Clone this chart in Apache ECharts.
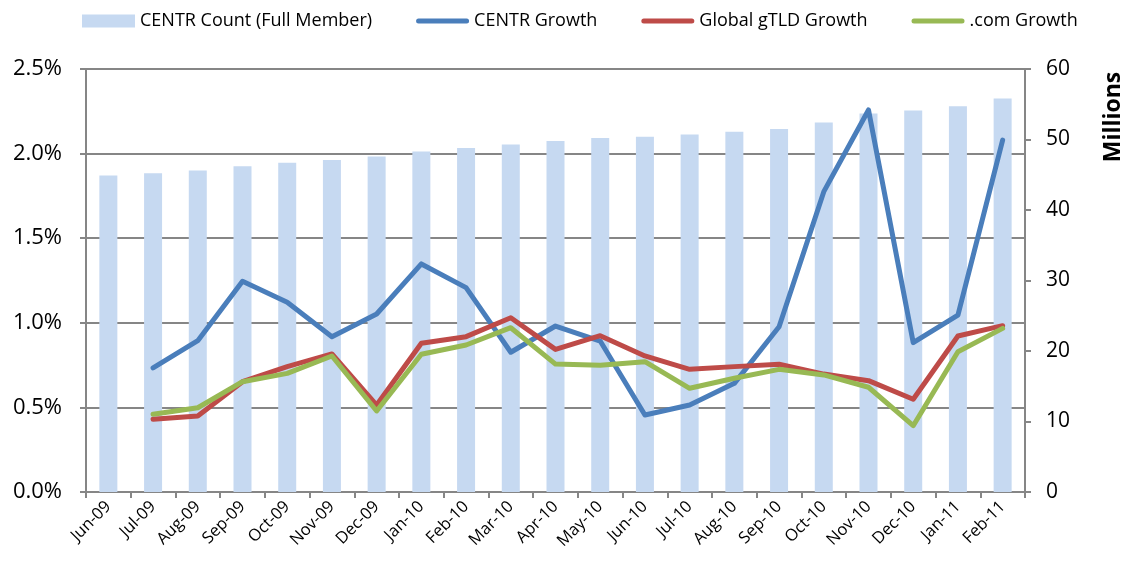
<!DOCTYPE html>
<html>
<head>
<meta charset="utf-8">
<script src="https://cdn.jsdelivr.net/npm/echarts@6/dist/echarts.min.js"></script>
<style>
html,body{margin:0;padding:0;background:#fff;}
#chart{width:1125px;height:564px;}
</style>
</head>
<body>
<div id="chart"></div>
<script>
var categories = ['Jun-09','Jul-09','Aug-09','Sep-09','Oct-09','Nov-09','Dec-09','Jan-10','Feb-10','Mar-10','Apr-10','May-10','Jun-10','Jul-10','Aug-10','Sep-10','Oct-10','Nov-10','Dec-10','Jan-11','Feb-11'];
// Millions of domains (right axis)
var centrCount = [44.9,45.2,45.6,46.2,46.7,47.1,47.6,48.3,48.8,49.3,49.8,50.2,50.4,50.7,51.1,51.5,52.4,53.7,54.1,54.7,55.8];
// Growth in percent (left axis)
var centrGrowth = [null,0.733,0.894,1.245,1.121,0.918,1.052,1.348,1.208,0.826,0.981,0.892,0.455,0.514,0.642,0.977,1.775,2.258,0.883,1.046,2.080];
var gtldGrowth = [null,0.430,0.449,0.652,0.741,0.816,0.514,0.879,0.918,1.030,0.843,0.924,0.804,0.725,0.741,0.755,0.697,0.658,0.548,0.922,0.983];
var comGrowth = [null,0.459,0.498,0.652,0.701,0.804,0.479,0.814,0.869,0.971,0.756,0.749,0.770,0.613,0.672,0.725,0.692,0.619,0.392,0.829,0.967];

var FONT = '"Open Sans", Lato, sans-serif';
var lineIcon = 'path://M2.5,0 L50.5,0 A2.5,2.5 0 0 1 50.5,5 L2.5,5 A2.5,2.5 0 0 1 2.5,0 Z';

var chart = echarts.init(document.getElementById('chart'), null, {renderer:'canvas'});
chart.setOption({
  animation: false,
  backgroundColor: '#ffffff',
  textStyle: {fontFamily: FONT},
  legend: {
    left: 77, top: 7,
    itemWidth: 53, itemHeight: 13, itemGap: 44,
    textStyle: {fontFamily: FONT, fontSize: 18, color: '#000'},
    data: [
      {name: 'CENTR Count (Full Member)', icon: 'rect'},
      {name: 'CENTR Growth', icon: lineIcon},
      {name: 'Global gTLD Growth', icon: lineIcon},
      {name: '.com Growth', icon: lineIcon}
    ]
  },
  grid: {left: 86, right: 100, top: 69, bottom: 72, containLabel: false},
  xAxis: {
    type: 'category',
    data: categories,
    boundaryGap: true,
    axisLine: {lineStyle: {color: '#868686', width: 2}},
    axisTick: {show: true, length: 6, lineStyle: {color: '#868686', width: 2}},
    axisLabel: {rotate: 45, fontFamily: FONT, fontSize: 16.5, color: '#000', margin: 12, interval: 0}
  },
  yAxis: [
    {
      type: 'value', min: 0, max: 2.5, interval: 0.5,
      axisLine: {show: true, lineStyle: {color: '#868686', width: 2}},
      axisTick: {show: true, length: 6, lineStyle: {color: '#868686', width: 2}},
      splitLine: {show: true, lineStyle: {color: '#868686', width: 2}},
      axisLabel: {fontFamily: FONT, fontSize: 22, color: '#000', margin: 24,
        formatter: function (v) { return v.toFixed(1) + '%'; }}
    },
    {
      type: 'value', min: 0, max: 60, interval: 10, position: 'right',
      axisLine: {show: true, lineStyle: {color: '#868686', width: 2}},
      axisTick: {show: true, length: 6, lineStyle: {color: '#868686', width: 2}},
      splitLine: {show: false},
      axisLabel: {fontFamily: FONT, fontSize: 21, color: '#000', margin: 21}
    }
  ],
  graphic: [{
    type: 'text', x: 1113, y: 117, rotation: Math.PI / 2,
    style: {text: 'Millions', font: 'bold 23px ' + FONT, fill: '#000', textAlign: 'center', textVerticalAlign: 'middle'}
  }],
  series: [
    {
      name: 'CENTR Count (Full Member)', type: 'bar', yAxisIndex: 1,
      data: centrCount, barWidth: 18,
      itemStyle: {color: '#c6d9f1'}, z: 1
    },
    {
      name: 'CENTR Growth', type: 'line', yAxisIndex: 0, data: centrGrowth,
      symbol: 'none', showSymbol: false, connectNulls: false,
      itemStyle: {color: '#4a7ebb'},
      lineStyle: {color: '#4a7ebb', width: 5, cap: 'round', join: 'round'}, z: 3
    },
    {
      name: 'Global gTLD Growth', type: 'line', yAxisIndex: 0, data: gtldGrowth,
      symbol: 'none', showSymbol: false,
      itemStyle: {color: '#be4b48'},
      lineStyle: {color: '#be4b48', width: 5, cap: 'round', join: 'round'}, z: 4
    },
    {
      name: '.com Growth', type: 'line', yAxisIndex: 0, data: comGrowth,
      symbol: 'none', showSymbol: false,
      itemStyle: {color: '#98b954'},
      lineStyle: {color: '#98b954', width: 5, cap: 'round', join: 'round'}, z: 5
    }
  ]
});
</script>
</body>
</html>
